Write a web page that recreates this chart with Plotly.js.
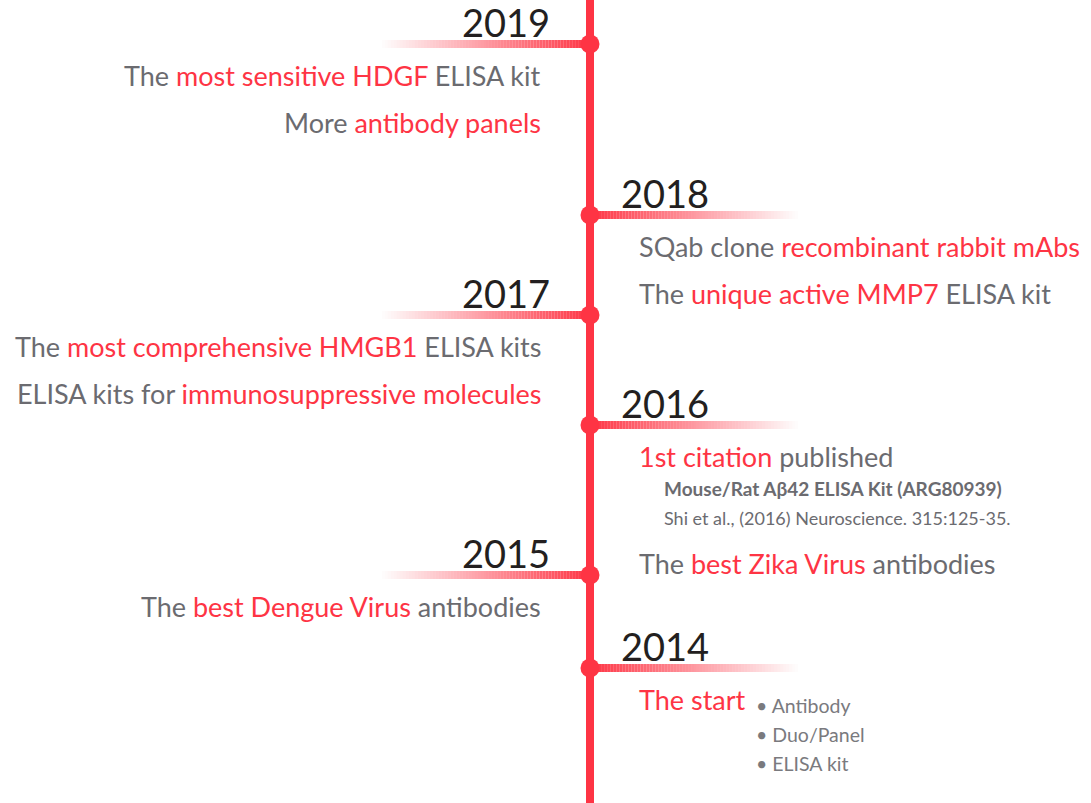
<!DOCTYPE html>
<html>
<head>
<meta charset="utf-8">
<script src="https://cdn.plot.ly/plotly-3.0.1.min.js"></script>
<style>html,body{margin:0;padding:0;background:#fff;}#chart{width:1091px;height:803px;}</style>
</head>
<body>
<div id="chart"></div>
<script>
// ---- data ----
const years = [2019, 2018, 2017, 2016, 2015, 2014];
const yearPos = [44, 215, 315, 425, 575, 668];      // position of each milestone on the timeline
const sides = ['left', 'right', 'left', 'right', 'left', 'right'];

// each line: [gray prefix, red highlight, gray suffix, kind]
const items2019 = [["The ", "most sensitive HDGF", " ELISA kit", "main"], ["More ", "antibody panels", "", "main"]];
const items2018 = [["SQab clone ", "recombinant rabbit mAbs", "", "main"], ["The ", "unique active MMP7", " ELISA kit", "main"]];
const items2017 = [["The ", "most comprehensive HMGB1", " ELISA kits", "main"], ["ELISA kits for ", "immunosuppressive molecules", "", "main"]];
const items2016 = [["", "1st citation", " published", "main"], ["Mouse/Rat Aβ42 ELISA Kit (ARG80939)", "", "", "subBold"], ["Shi et al., (2016) Neuroscience. 315:125-35.", "", "", "sub"], ["The ", "best Zika Virus", " antibodies", "main"]];
const items2015 = [["The ", "best Dengue Virus", " antibodies", "main"]];
const items2014 = [["", "The start", "", "main"]];
const startBullets = ["Antibody", "Duo/Panel", "ELISA kit"];
const allItems = [items2019, items2018, items2017, items2016, items2015, items2014];

// ---- style ----
const RED = '#fe3444';
const GRAY = '#6b6b70';
const DARK = '#231f20';
const FONT = 'Lato, "Open Sans", sans-serif';
const LINE_X = 590;

const shapes = [];
const annotations = [];

// vertical timeline
shapes.push({type: 'line', xref: 'x', yref: 'y', x0: LINE_X, x1: LINE_X, y0: 0, y1: 803, line: {color: RED, width: 8}, layer: 'below'});

// gradient arms
const N = 70, ARM = 208;
years.forEach((yr, i) => {
  const y = yearPos[i];
  const dir = sides[i] === 'left' ? -1 : 1;
  for (let k = 0; k < N; k++) {
    const a = LINE_X + dir * ARM * k / N;
    const b = LINE_X + dir * ARM * (k + 1) / N;
    const op = 1 - (k + 0.5) / N;
    shapes.push({type: 'line', xref: 'x', yref: 'y', x0: a, x1: b, y0: y, y1: y,
      line: {color: RED, width: 8}, opacity: op, layer: 'below'});
  }
  // year label
  annotations.push({
    xref: 'x', yref: 'y', x: dir < 0 ? 552 : 619, y: y - 22,
    xanchor: dir < 0 ? 'right' : 'left', yanchor: 'middle', showarrow: false,
    text: String(yr), font: {family: FONT, size: 38, color: DARK}
  });
  // entries
  let cy = y + 31.5;
  let prev = null;
  allItems[i].forEach(it => {
    const kind = it[3];
    if (prev) {
      if (prev === 'main' && kind === 'main') cy += 47;
      else if (prev === 'main') cy += 32;
      else if (kind === 'main') cy += 46;
      else cy += 29;
    }
    let txt = '';
    if (it[0]) txt += `<span style="color:${GRAY}">${it[0]}</span>`;
    if (it[1]) txt += `<span style="color:${RED}">${it[1]}</span>`;
    if (it[2]) txt += `<span style="color:${GRAY}">${it[2]}</span>`;
    if (kind === 'subBold') txt = `<b>${txt}</b>`;
    const isMain = kind === 'main';
    annotations.push({
      xref: 'x', yref: 'y',
      x: dir < 0 ? 543 : (isMain ? 637 : 662), y: cy,
      xanchor: dir < 0 ? 'right' : 'left', yanchor: 'middle', showarrow: false,
      text: txt, font: {family: FONT, size: isMain ? 27 : (kind === 'subBold' ? 19 : 18), color: GRAY}
    });
    prev = kind;
  });
});

// bullets for the start
startBullets.forEach((b, j) => {
  annotations.push({
    xref: 'x', yref: 'y', x: 754, y: yearPos[5] + 37.5 + 29 * j,
    xanchor: 'left', yanchor: 'middle', showarrow: false,
    text: '• ' + b, font: {family: FONT, size: 19.5, color: '#7a7a7e'}
  });
});

// dots
const dotTrace = {
  x: years.map(() => LINE_X), y: yearPos, mode: 'markers', type: 'scatter',
  marker: {color: RED, size: 19}, hoverinfo: 'skip', cliponaxis: false
};

const layout = {
  width: 1091, height: 803,
  margin: {l: 0, r: 0, t: 0, b: 0},
  paper_bgcolor: '#fff', plot_bgcolor: '#fff',
  showlegend: false,
  xaxis: {range: [0, 1091], visible: false, fixedrange: true},
  yaxis: {range: [803, 0], visible: false, fixedrange: true},
  shapes: shapes,
  annotations: annotations
};

Plotly.newPlot('chart', [dotTrace], layout, {displayModeBar: false, staticPlot: true});
</script>
</body>
</html>
